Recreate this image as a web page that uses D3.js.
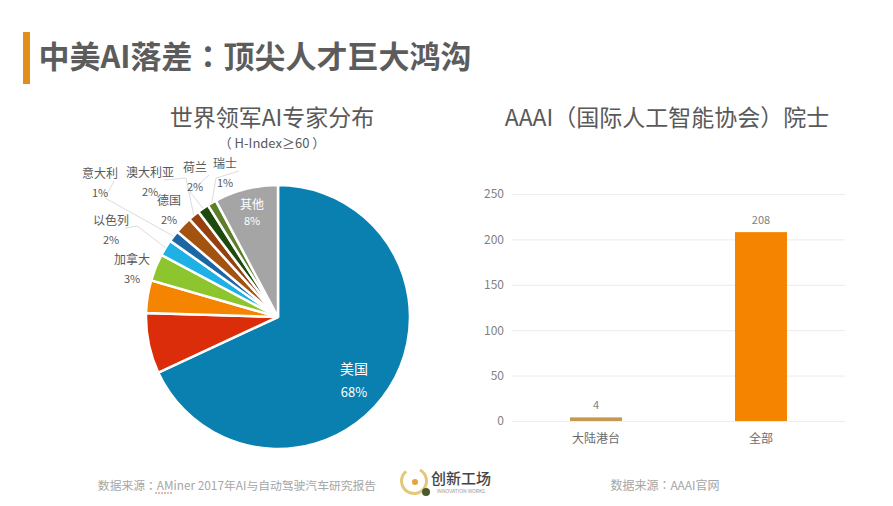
<!DOCTYPE html>
<html>
<head>
<meta charset="utf-8">
<script src="https://cdn.jsdelivr.net/npm/d3@7"></script>
<style>
  html, body { margin: 0; padding: 0; background: #fff; }
  text { font-family: "Noto Sans CJK SC", "Noto Sans", sans-serif; }
  text.tc { font-family: "Noto Sans CJK TC", "Noto Sans", sans-serif; }
</style>
</head>
<body>
<svg width="893" height="506"></svg>
<script>
// pie: names, shares as drawn, printed percentages
const pieNames = ['美国', '', '', '加拿大', '以色列', '意大利', '德国', '澳大利亚', '荷兰', '瑞士', '其他']
const pieValues = [68, 7.4, 4, 3.3, 2, 1.4, 2.1, 1.4, 1.4, 1.1, 7.8]
const pieLabels = ['68%', '', '', '3%', '2%', '1%', '2%', '2%', '2%', '1%', '8%']
const pieColors = ['#0a80b0', '#dc2d0a', '#f58400', '#8cc52e', '#1fb0e6', '#1c66a6', '#a3520f', '#96400f', '#1f4a0d', '#5d7f2a', '#a5a5a5']

// bars
const barNames = ['大陆港台', '全部']
const barValues = [4, 208]
const barTicks = [0, 50, 100, 150, 200, 250]

const svg = d3.select('svg')
const grey = '#595959'

svg.append('rect').attr('x', 23).attr('y', 32).attr('width', 7).attr('height', 52).attr('fill', '#e08e1c')

function addText(x, y, str, size, color, weight) {
  return svg.append('text')
    .attr('x', x).attr('y', y)
    .attr('text-anchor', 'middle')
    .attr('font-size', size)
    .attr('font-weight', weight || 400)
    .attr('fill', color || grey)
    .text(str)
}

// TC face centres the full-width colon and brackets, as in the slide
addText(255, 68, '中美AI落差：顶尖人才巨大鸿沟', 31, '#5c5c5c', 700).attr('class', 'tc')
addText(272, 126, '世界领军AI专家分布', 23)
addText(272, 148, '（ H-Index≥60 ）', 13).attr('class', 'tc')
addText(667, 126, 'AAAI（国际人工智能协会）院士', 23).attr('class', 'tc')

// pie chart
const pieG = svg.append('g').attr('transform', 'translate(278,317)')
const arc = d3.arc().innerRadius(0).outerRadius(132)
const slices = d3.pie().sort(null)(pieValues)

pieG.selectAll('path')
  .data(slices)
  .enter()
  .append('path')
  .attr('d', arc)
  .attr('fill', (d, i) => pieColors[i])
  .attr('stroke', '#fff')
  .attr('stroke-width', 2.5)

// label placement: index into the pie arrays, text centre, leader bend
const outside = [
  { i: 3, x: 132, y: 264, bend: null },
  { i: 4, x: 111, y: 225, bend: [137, 226] },
  { i: 5, x: 100, y: 178, bend: [105, 198] },
  { i: 6, x: 169, y: 205, bend: null },
  { i: 7, x: 150, y: 177, bend: [186, 178] },
  { i: 8, x: 195, y: 172, bend: [190, 192] },
  { i: 9, x: 225, y: 168, bend: [216, 178] }
]

outside.forEach(o => {
  if (o.bend) {
    const mid = (slices[o.i].startAngle + slices[o.i].endAngle) / 2
    const edge = [278 + Math.sin(mid) * 132, 317 - Math.cos(mid) * 132]
    svg.append('path')
      .attr('d', d3.line()([[o.x + 14, o.y + 3], o.bend, edge]))
      .attr('fill', 'none')
      .attr('stroke', '#dcdcdc')
      .attr('stroke-width', 1)
  }
  addText(o.x, o.y, pieNames[o.i], 12)
  addText(o.x, o.y + 19, pieLabels[o.i], 11)
})

addText(252, 209, pieNames[10], 12, '#fff')
addText(252, 225, pieLabels[10], 11, '#fff')
addText(354, 374, pieNames[0], 14, '#fff')
addText(354, 397, pieLabels[0], 13, '#fff')

// bar chart
const x = d3.scaleBand().domain(barNames).range([513.5, 843.5]).padding(0)
const y = d3.scaleLinear().domain([0, 250]).range([421, 194])

const axis = svg.append('g')
  .attr('transform', 'translate(512,0)')
  .call(d3.axisLeft(y).tickValues(barTicks).tickSize(-333).tickPadding(8))
axis.select('.domain').remove()
axis.selectAll('line').attr('stroke', '#ececec')
axis.selectAll('text').attr('font-size', 12).attr('fill', '#7f7f7f')

const w = 52
svg.selectAll('.bar')
  .data(barValues)
  .enter()
  .append('rect')
  .attr('class', 'bar')
  .attr('x', (d, i) => x(barNames[i]) + x.bandwidth() / 2 - w / 2)
  .attr('y', d => y(d))
  .attr('width', w)
  .attr('height', d => y(0) - y(d))
  .attr('fill', (d, i) => i === 0 ? '#c49a52' : '#f58400')

barValues.forEach((d, i) => {
  const cx = x(barNames[i]) + x.bandwidth() / 2
  addText(cx, y(d) - 8, d, 11, '#7f7f7f')
  addText(cx, 443, barNames[i], 12, '#6b6b6b')
})

// footer
addText(237, 490, '数据来源：AMiner 2017年AI与自动驾驶汽车研究报告', 11.8, '#a6a6a6').attr('class', 'tc')
addText(665, 490, '数据来源：AAAI官网', 12, '#a6a6a6').attr('class', 'tc')
svg.append('line').attr('x1', 155).attr('x2', 172).attr('y1', 493).attr('y2', 493)
  .attr('stroke', '#c9746a').attr('stroke-width', 1).attr('stroke-dasharray', '2 1')

// logo
const logo = svg.append('g')
logo.append('path')
  .attr('d', d3.arc().innerRadius(11).outerRadius(14).startAngle(0.5).endAngle(5.6)())
  .attr('transform', 'translate(414,481)')
  .attr('fill', '#e3c77a')
logo.append('circle').attr('cx', 415).attr('cy', 482).attr('r', 3).attr('fill', '#e8a33c')
logo.append('circle').attr('cx', 426).attr('cy', 492).attr('r', 4).attr('fill', '#4a5a2a')
addText(461, 484, '创新工场', 15, '#444', 500)
addText(461, 493, 'INNOVATION WORKS', 5, '#999')
</script>
</body>
</html>
